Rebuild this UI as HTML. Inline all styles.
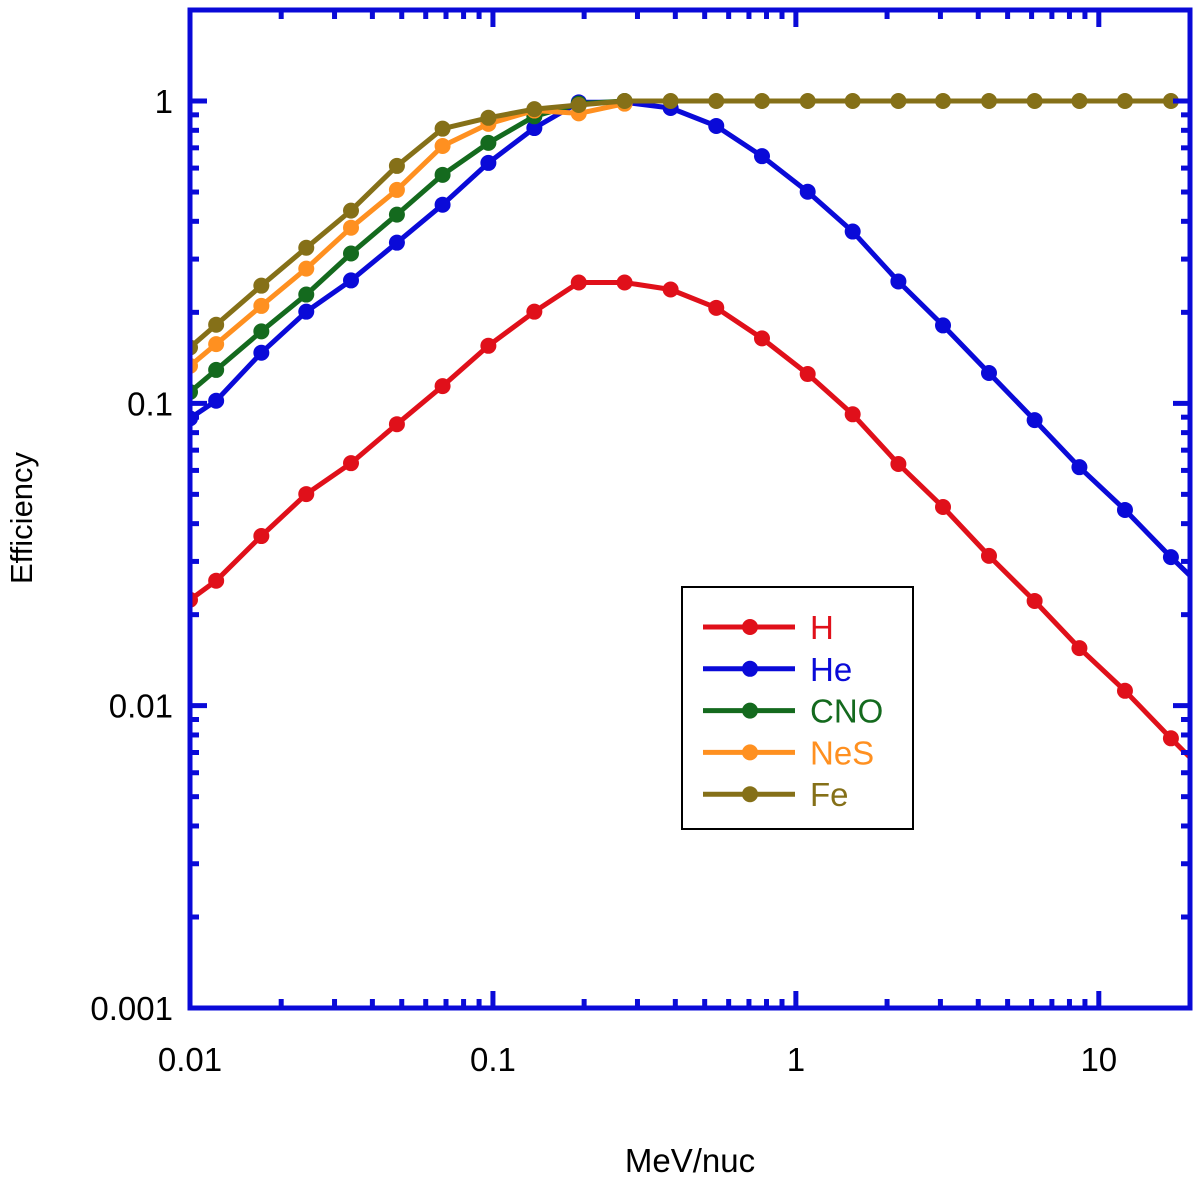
<!DOCTYPE html>
<html><head><meta charset="utf-8"><style>
html,body{margin:0;padding:0;background:#fff;}
svg text{font-family:"Liberation Sans",Arial,sans-serif;}
</style></head><body>
<svg id="chart" width="1200" height="1183" xmlns="http://www.w3.org/2000/svg">
<defs><clipPath id="clip"><rect x="190" y="10" width="1000" height="998"/></clipPath></defs>
<g id="series" clip-path="url(#clip)"></g>
<g id="axes"></g>
<text x="32" y="518" font-size="31" text-anchor="middle" transform="rotate(-90 32 518)">Efficiency</text>
<text x="690" y="1172" font-size="33" text-anchor="middle">MeV/nuc</text>
<g>
<rect x="682" y="587" width="231" height="242" fill="#fff" stroke="#000" stroke-width="2"/>
<g id="legend-items"></g>
</g>
</svg>
<script>
const energies=[0.01,0.0122,0.0172,0.0242,0.034,0.0482,0.0682,0.0966,0.137,0.192,0.272,0.386,0.546,0.773,1.094,1.54,2.18,3.06,4.34,6.14,8.63,12.2,17.3,24.5];
const hVals=[0.0224,0.0259,0.0364,0.0501,0.0634,0.0853,0.114,0.155,0.201,0.251,0.251,0.238,0.207,0.164,0.125,0.092,0.063,0.0454,0.0313,0.0222,0.0155,0.0112,0.0078,0.0055];
const heVals=[0.0892,0.102,0.147,0.201,0.255,0.340,0.454,0.624,0.814,0.99,0.99,0.948,0.827,0.657,0.501,0.370,0.253,0.181,0.126,0.088,0.0615,0.0444,0.031,0.0221];
const cnoVals=[0.109,0.129,0.173,0.229,0.313,0.421,0.570,0.727,0.89,0.98,1.0];
const nesVals=[0.133,0.157,0.210,0.279,0.381,0.508,0.710,0.84,0.93,0.91,0.98];
const feVals=[0.153,0.182,0.245,0.327,0.434,0.610,0.81,0.88,0.94,0.97,1,1,1,1,1,1,1,1,1,1,1,1,1,1];
const seriesNames=["H","He","CNO","NeS","Fe"];
const seriesColors=["#e0101a","#0a0ad8","#146a1e","#ff9020","#857018"];
const xTickLabels=["0.01","0.1","1","10"];
const yTickLabels=["0.001","0.01","0.1","1"];
const X0=190,X1=1190,Y0=10,Y1=1008,XMIN=0.01,XMAX=20,YMIN=0.001,YMAX=2;
const xs=v=>X0+(Math.log10(v)-Math.log10(XMIN))/(Math.log10(XMAX)-Math.log10(XMIN))*(X1-X0);
const ys=v=>Y1-(Math.log10(v)-Math.log10(YMIN))/(Math.log10(YMAX)-Math.log10(YMIN))*(Y1-Y0);
const NS="http://www.w3.org/2000/svg";
function mk(tag,attrs,parent){const e=document.createElementNS(NS,tag);for(const k in attrs)e.setAttribute(k,attrs[k]);parent.appendChild(e);return e;}
const sg=document.getElementById('series');
const allVals=[hVals,heVals,cnoVals,nesVals,feVals];
[0,1,2,3,4].forEach(i=>{
  const vals=allVals[i];
  const g=mk('g',{},sg);
  
  
  const pts=vals.map((v,j)=>xs(energies[j]).toFixed(1)+','+ys(v).toFixed(1)).join(' ');
  const pl=mk('polyline',{points:pts,fill:'none',stroke:seriesColors[i],'stroke-width':5,'stroke-linejoin':'round'},g);
  
  
  vals.forEach((v,j)=>{
    const c=mk('circle',{cx:xs(energies[j]),cy:ys(v),r:8,fill:seriesColors[i]},g);
    
    
  });
});
const ax=document.getElementById('axes');
const blue="#0a0ad8";
const fr=mk('rect',{x:X0,y:Y0,width:X1-X0,height:Y1-Y0,fill:'none',stroke:blue,'stroke-width':5},ax);


for(let d=-2;d<=1;d++){for(let m=1;m<=9;m++){const v=m*Math.pow(10,d);if(v>XMAX)continue;const x=xs(v);const L=m===1?17:9;
  mk('line',{x1:x,y1:Y1,x2:x,y2:Y1-L,stroke:blue,'stroke-width':5},ax);
  mk('line',{x1:x,y1:Y0,x2:x,y2:Y0+L,stroke:blue,'stroke-width':5},ax);}}
for(let d=-3;d<=0;d++){for(let m=1;m<=9;m++){const v=m*Math.pow(10,d);if(v>YMAX)continue;const y=ys(v);const L=m===1?17:9;
  mk('line',{x1:X0,y1:y,x2:X0+L,y2:y,stroke:blue,'stroke-width':5},ax);
  mk('line',{x1:X1,y1:y,x2:X1-L,y2:y,stroke:blue,'stroke-width':5},ax);}}
xTickLabels.forEach((t,i)=>{const e=mk('text',{x:xs(Math.pow(10,i-2)),y:1071,'font-size':33,'text-anchor':'middle'},ax);e.textContent=t;
  
  });
yTickLabels.forEach((t,i)=>{const e=mk('text',{x:173,y:ys(Math.pow(10,i-3))+12,'font-size':33,'text-anchor':'end'},ax);e.textContent=t;
  
  });
const lg=document.getElementById('legend-items');
seriesNames.forEach((n,i)=>{const y=627+i*41.8;const g=mk('g',{},lg);
  
  
  mk('line',{x1:703,y1:y,x2:795,y2:y,stroke:seriesColors[i],'stroke-width':5},g);
  mk('circle',{cx:750,cy:y,r:8,fill:seriesColors[i]},g);
  const t=mk('text',{x:810,y:y+12,'font-size':33,fill:seriesColors[i]},g);t.textContent=n;});
</script>
</body></html>
